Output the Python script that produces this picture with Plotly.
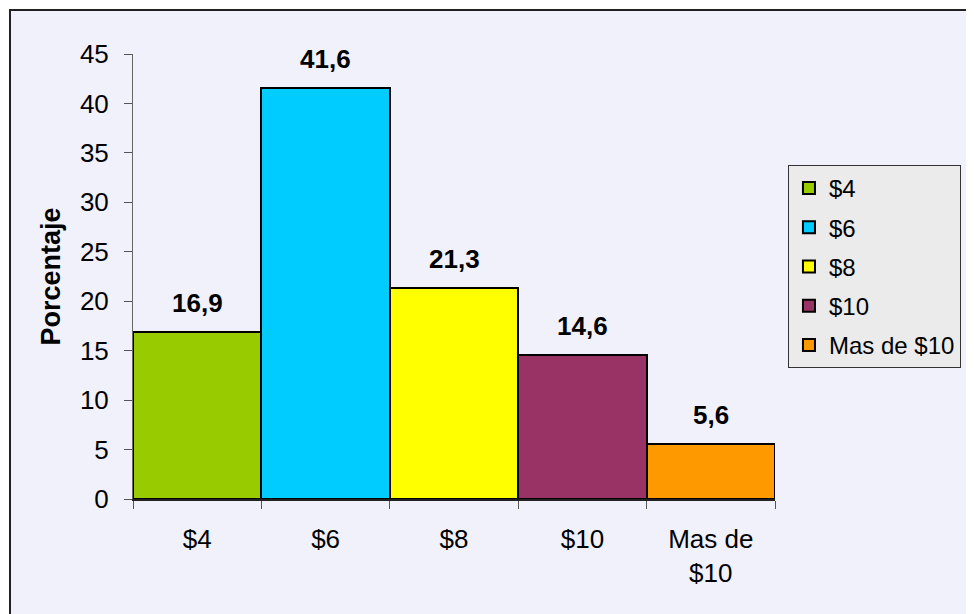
import plotly.graph_objects as go

categories = ["$4", "$6", "$8", "$10", "Mas de $10"]
tick_labels = ["$4", "$6", "$8", "$10", "Mas de<br>$10"]
values = [16.9, 41.6, 21.3, 14.6, 5.6]
colors = ["#99cc00", "#00ccff", "#ffff00", "#993366", "#ff9900"]

FONT = "Arial, Liberation Sans, sans-serif"
FS = 26

fig = go.Figure()
for cat, lab, v, c in zip(categories, tick_labels, values, colors):
    fig.add_trace(go.Bar(
        x=[lab], y=[v], name=cat, legendgroup=cat,
        marker=dict(color=c, line=dict(color="black", width=2)),
        hoverinfo="skip",
    ))

annotations = []
for lab, v in zip(tick_labels, values):
    annotations.append(dict(
        x=lab, y=v, xref="x", yref="y", text=f"{v:.1f}".replace(".", ","),
        showarrow=False, yanchor="bottom", yshift=12,
        font=dict(family=FONT, size=FS, color="black", weight="bold"),
    ))

# page body has an 8px margin: compensate so plot area sits at x 133-775, y 54-499
fig.update_layout(
    width=974, height=614,
    margin=dict(l=125, r=207, t=46, b=123),
    paper_bgcolor="white", plot_bgcolor="rgba(0,0,0,0)",
    barmode="overlay", bargap=0,
    separators=",.",
    font=dict(family=FONT, size=FS, color="black"),
    showlegend=True,
    legend=dict(
        x=1.0202, y=0.7506, xanchor="left", yanchor="top",
        bgcolor="#ebebeb", bordercolor="#333333", borderwidth=1,
        font=dict(family=FONT, size=24, color="black"),
        tracegroupgap=5, traceorder="grouped", itemwidth=30,
    ),
    annotations=annotations,
    shapes=[dict(
        type="rect", xref="paper", yref="paper",
        x0=-0.1916, x1=1.40, y0=-0.40, y1=1.0989,
        line=dict(color="#222222", width=2), fillcolor="#f1f1fc",
        layer="below",
    )],
)

fig.update_xaxes(
    type="category", categoryorder="array", categoryarray=tick_labels,
    tickson="boundaries", ticks="outside", ticklen=8, tickcolor="#555555",
    ticklabelstandoff=16,
    showline=True, linecolor="#222222", linewidth=2,
    showgrid=False, zeroline=False,
    tickfont=dict(family=FONT, size=FS, color="black"),
    range=[-0.5, 4.5],
)
fig.update_yaxes(
    range=[0, 45], dtick=5, tick0=0,
    ticks="outside", ticklen=8, tickcolor="#555555",
    ticklabelstandoff=10,
    showline=True, linecolor="#666666", linewidth=1,
    showgrid=False, zeroline=False,
    tickfont=dict(family=FONT, size=FS, color="black"),
    title=dict(text="Porcentaje", standoff=11,
               font=dict(family=FONT, size=27, color="black", weight="bold")),
)

fig.write_html("out.html")
